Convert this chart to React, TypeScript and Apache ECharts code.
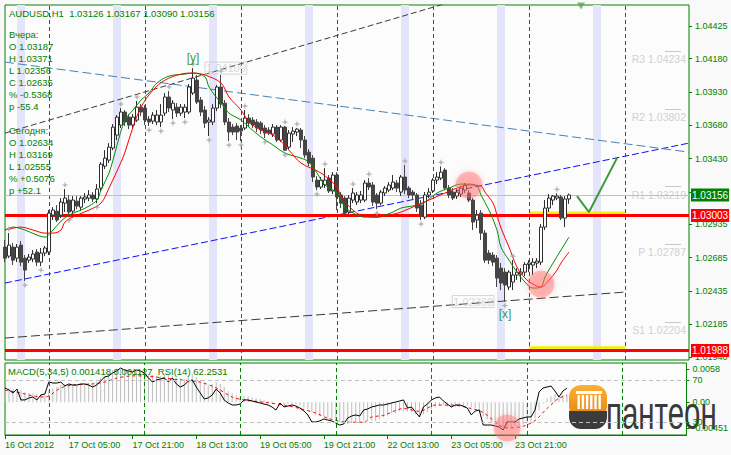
import { useEffect, useRef } from 'react';
import * as echarts from 'echarts';

const FONT = '"Liberation Sans", Arial, sans-serif';
const GREEN = '#008000';

// ---------- price data (H1 bars, 16 Oct 13:00 .. 24 Oct 10:00) ----------
const opens = [
  1.02765,1.02697,1.02765,1.02682,1.02780,1.02682,1.02667,1.02675,1.02728,1.02652,
  1.02720,1.02728,1.03005,1.03035,1.03005,1.03095,1.03118,1.03035,1.03110,1.03065,
  1.03126,1.03133,1.03156,1.03126,1.03208,1.03373,1.03418,1.03509,1.03606,1.03681,
  1.03779,1.03741,1.03681,1.03719,1.03816,1.03809,1.03726,1.03711,1.03704,1.03704,
  1.03771,1.03892,1.03794,1.03816,1.03771,1.03779,1.03779,1.03922,1.04019,1.03869,
  1.03794,1.03704,1.03704,1.03809,1.03967,1.03846,1.03704,1.03666,1.03674,1.03659,
  1.03659,1.03734,1.03719,1.03704,1.03696,1.03659,1.03644,1.03614,1.03666,1.03569,
  1.03666,1.03516,1.03614,1.03629,1.03644,1.03569,1.03478,1.03433,1.03268,1.03216,
  1.03231,1.03283,1.03186,1.03306,1.03156,1.03133,1.03028,1.03118,1.03103,1.03118,
  1.03118,1.03246,1.03231,1.03156,1.03095,1.03171,1.03193,1.03208,1.03246,1.03178,
  1.03291,1.03208,1.03178,1.03156,1.03080,1.02990,1.03156,1.03187,1.03268,1.03283,
  1.03343,1.03208,1.03178,1.03148,1.03163,1.03193,1.03171,1.03118,1.02968,1.03020,
  1.02870,1.02720,1.02705,1.02682,1.02607,1.02577,1.02465,1.02502,1.02555,1.02562,
  1.02577,1.02634,1.02630,1.02645,1.02652,1.02915,1.03058,1.03118,1.03133,1.03141,
  1.02983,1.03126,
];
const highs = [
  1.02818,1.02870,1.02795,1.02788,1.02810,1.02705,1.02713,1.02743,1.02750,1.02758,
  1.02773,1.03043,1.03065,1.03080,1.03133,1.03201,1.03156,1.03148,1.03148,1.03148,
  1.03171,1.03193,1.03178,1.03238,1.03403,1.03493,1.03546,1.03689,1.03756,1.03809,
  1.03794,1.03764,1.03764,1.03862,1.03839,1.03831,1.03749,1.03779,1.03794,1.03839,
  1.03922,1.03937,1.03869,1.03846,1.03839,1.03839,1.03989,1.04109,1.04057,1.03892,
  1.03824,1.03741,1.03839,1.03982,1.04057,1.03869,1.03734,1.03689,1.03696,1.03681,
  1.03794,1.03764,1.03741,1.03726,1.03711,1.03681,1.03666,1.03689,1.03681,1.03681,
  1.03674,1.03644,1.03666,1.03659,1.03659,1.03599,1.03501,1.03456,1.03298,1.03291,
  1.03358,1.03306,1.03328,1.03328,1.03178,1.03148,1.03156,1.03208,1.03178,1.03186,
  1.03268,1.03283,1.03253,1.03171,1.03193,1.03223,1.03253,1.03306,1.03268,1.03306,
  1.03381,1.03223,1.03193,1.03171,1.03118,1.03178,1.03208,1.03283,1.03328,1.03371,
  1.03358,1.03231,1.03208,1.03201,1.03223,1.03246,1.03193,1.03133,1.03043,1.03043,
  1.02893,1.02743,1.02728,1.02705,1.02645,1.02607,1.02592,1.02667,1.02607,1.02607,
  1.02652,1.02667,1.02682,1.02682,1.02938,1.03118,1.03163,1.03156,1.03169,1.03156,
  1.03148,1.03167,
];
const lows = [
  1.02652,1.02682,1.02630,1.02652,1.02622,1.02510,1.02645,1.02652,1.02622,1.02622,
  1.02697,1.02705,1.02968,1.02953,1.02983,1.03028,1.02998,1.03013,1.03050,1.03043,
  1.03095,1.03110,1.03103,1.03095,1.03186,1.03351,1.03396,1.03493,1.03569,1.03659,
  1.03674,1.03651,1.03659,1.03704,1.03749,1.03681,1.03674,1.03689,1.03681,1.03666,
  1.03749,1.03779,1.03726,1.03741,1.03749,1.03734,1.03764,1.03907,1.03839,1.03749,
  1.03659,1.03599,1.03681,1.03786,1.03809,1.03681,1.03561,1.03606,1.03569,1.03561,
  1.03644,1.03666,1.03659,1.03629,1.03614,1.03584,1.03606,1.03591,1.03554,1.03554,
  1.03486,1.03501,1.03554,1.03599,1.03509,1.03433,1.03373,1.03253,1.03193,1.03201,
  1.03208,1.03171,1.03163,1.03043,1.03058,1.03005,1.03013,1.03095,1.03080,1.03095,
  1.03103,1.03193,1.03073,1.03050,1.03080,1.03148,1.03178,1.03193,1.03178,1.03148,
  1.03163,1.03133,1.03118,1.03028,1.02968,1.02975,1.03133,1.03171,1.03238,1.03268,
  1.03193,1.03133,1.03118,1.03126,1.03141,1.03171,1.03103,1.02893,1.02908,1.02818,
  1.02645,1.02637,1.02622,1.02465,1.02442,1.02356,1.02442,1.02442,1.02517,1.02502,
  1.02547,1.02577,1.02555,1.02607,1.02630,1.02893,1.03028,1.03080,1.03118,1.02968,
  1.02915,1.03090,
];
const closes = [
  1.02682,1.02780,1.02667,1.02765,1.02652,1.02592,1.02690,1.02713,1.02652,1.02720,
  1.02758,1.03020,1.03043,1.02968,1.03103,1.03133,1.03028,1.03118,1.03073,1.03133,
  1.03141,1.03156,1.03126,1.03201,1.03388,1.03433,1.03516,1.03666,1.03741,1.03779,
  1.03704,1.03681,1.03741,1.03816,1.03779,1.03719,1.03704,1.03756,1.03756,1.03756,
  1.03892,1.03809,1.03846,1.03771,1.03816,1.03816,1.03967,1.04034,1.03854,1.03779,
  1.03696,1.03719,1.03809,1.03967,1.03839,1.03704,1.03629,1.03629,1.03629,1.03636,
  1.03734,1.03696,1.03681,1.03659,1.03644,1.03621,1.03621,1.03666,1.03569,1.03666,
  1.03493,1.03621,1.03636,1.03651,1.03569,1.03456,1.03396,1.03291,1.03216,1.03268,
  1.03268,1.03186,1.03306,1.03141,1.03095,1.03020,1.03133,1.03171,1.03156,1.03156,
  1.03246,1.03216,1.03103,1.03095,1.03178,1.03208,1.03231,1.03253,1.03208,1.03291,
  1.03193,1.03156,1.03156,1.03058,1.03005,1.03156,1.03178,1.03268,1.03291,1.03328,
  1.03208,1.03156,1.03133,1.03178,1.03208,1.03231,1.03118,1.02953,1.03005,1.02870,
  1.02667,1.02667,1.02652,1.02532,1.02495,1.02480,1.02577,1.02555,1.02577,1.02577,
  1.02635,1.02645,1.02652,1.02660,1.02915,1.03058,1.03133,1.03148,1.03148,1.02983,
  1.03126,1.03156,
];

// moving averages: [bar, price]
const maFast = [
  [0,1.02893],[2,1.02915],[5,1.02893],[8,1.02855],[10,1.02840],[12,1.02893],[14,1.02960],[16,1.03005],
  [19,1.03043],[21,1.03073],[23,1.03118],[24,1.03193],[26,1.03321],[27,1.03418],[28,1.03531],[30,1.03719],
  [32,1.03794],[34,1.03869],[36,1.03922],[38,1.03997],[41,1.04049],[45,1.04064],[47,1.04072],[50,1.04042],
  [51,1.03967],[54,1.03846],[56,1.03771],[59,1.03719],[61,1.03666],[64,1.03591],[67,1.03531],[70,1.03471],
  [74,1.03433],[76,1.03403],[78,1.03321],[80,1.03231],[83,1.03171],[85,1.03065],[88,1.03005],[90,1.02990],
  [93,1.02990],[95,1.03005],[97,1.03028],[99,1.03058],[103,1.03080],[105,1.03103],[108,1.03171],[111,1.03208],
  [114,1.03238],[116,1.03238],[118,1.03223],[119,1.03156],[121,1.03043],[123,1.02893],[124,1.02765],[126,1.02667],
  [128,1.02577],[130,1.02502],[132,1.02457],[134,1.02465],[135,1.02540],[137,1.02645],[139,1.02743],[141,1.02840],
];
const maSlow = [
  [0,1.02893],[4,1.02915],[7,1.02893],[10,1.02870],[12,1.02870],[14,1.02893],[15,1.02953],[18,1.03005],
  [21,1.03043],[24,1.03095],[26,1.03208],[29,1.03403],[30,1.03478],[32,1.03666],[34,1.03816],[37,1.03944],
  [40,1.04019],[44,1.04064],[47,1.04072],[50,1.04057],[54,1.03997],[56,1.03892],[59,1.03794],[61,1.03704],
  [64,1.03644],[67,1.03606],[70,1.03531],[71,1.03493],[74,1.03396],[79,1.03321],[83,1.03216],[84,1.03141],
  [87,1.03043],[89,1.03005],[93,1.02990],[95,1.02998],[99,1.03028],[103,1.03080],[106,1.03118],[110,1.03171],
  [113,1.03208],[116,1.03231],[119,1.03223],[120,1.03178],[122,1.03095],[123,1.03005],[124,1.02908],[126,1.02765],
  [128,1.02615],[130,1.02532],[132,1.02487],[134,1.02465],[136,1.02517],[138,1.02592],[139,1.02645],[141,1.02728],
];

// indicators
const macdMain = [
  0.00229,0.00246,0.00229,0.00211,0.00211,0.00176,0.00158,0.00158,0.00141,0.00141,
  0.00141,0.00211,0.00246,0.00264,0.00299,0.00316,0.00316,0.00316,0.00299,0.00316,
  0.00316,0.00334,0.00334,0.00352,0.00422,0.00457,0.00510,0.00563,0.00580,0.00580,
  0.00563,0.00545,0.00527,0.00545,0.00527,0.00510,0.00492,0.00475,0.00457,0.00457,
  0.00492,0.00475,0.00457,0.00422,0.00422,0.00404,0.00457,0.00492,0.00440,0.00387,
  0.00334,0.00299,0.00316,0.00352,0.00316,0.00264,0.00193,0.00158,0.00123,0.00088,
  0.00105,0.00105,0.00088,0.00070,0.00053,0.00035,0.00018,0.00018,0.00000,0.00000,
  -0.00035,-0.00035,-0.00035,-0.00035,-0.00053,-0.00088,-0.00123,-0.00176,-0.00229,-0.00246,
  -0.00246,-0.00281,-0.00281,-0.00316,-0.00352,-0.00387,-0.00387,-0.00369,-0.00352,-0.00352,
  -0.00316,-0.00299,-0.00316,-0.00334,-0.00299,-0.00264,-0.00229,-0.00193,-0.00193,-0.00158,
  -0.00158,-0.00158,-0.00176,-0.00211,-0.00246,-0.00211,-0.00176,-0.00123,-0.00088,-0.00053,
  -0.00053,-0.00070,-0.00088,-0.00088,-0.00070,-0.00053,-0.00053,-0.00088,-0.00105,-0.00158,
  -0.00246,-0.00299,-0.00352,-0.00387,-0.00440,-0.00451,-0.00451,-0.00440,-0.00422,-0.00404,
  -0.00387,-0.00369,-0.00334,-0.00281,-0.00141,-0.00018,0.00070,0.00105,0.00141,0.00123,
  0.00123,0.001418,
];
const macdSignal = [
  [0,0.0021],[4,0.0016],[7,0.0011],[10,0.0009],[14,0.0025],[17,0.0030],[22,0.0032],[25,0.0035],
  [28,0.0042],[32,0.0046],[35,0.0046],[40,0.0042],[44,0.0039],[49,0.0035],[53,0.0025],[57,0.0009],
  [60,0.0004],[65,0],[70,-0.0005],[74,-0.0011],[78,-0.0019],[81,-0.0028],[86,-0.0035],[90,-0.0035],
  [92,-0.0026],[95,-0.0023],[100,-0.0011],[104,-0.0016],[108,-0.0005],[112,-0.0005],[117,-0.0011],[120,-0.0018],
  [124,-0.0040],[126,-0.0045],[130,-0.0042],[133,-0.0032],[136,-0.0011],[139,0.0007],[141,0.001127],
];
const rsi = [
  62.4,60.5,57.6,61.4,51.0,51.0,52.9,53.8,51.0,55.7,
  56.7,68.1,67.1,67.1,68.1,64.3,66.2,65.2,65.2,66.2,
  66.2,65.2,63.3,65.2,69.0,72.9,73.8,76.7,78.6,81.4,
  79.5,78.6,77.6,79.5,78.6,76.7,71.9,68.1,70.0,71.0,
  71.9,68.1,71.9,66.2,63.3,65.2,69.0,70.0,63.3,57.6,
  51.9,52.9,55.7,61.4,57.6,51.0,48.1,46.2,46.2,47.1,
  51.0,51.0,50.0,49.0,48.1,47.1,46.2,44.3,41.4,48.1,
  44.3,45.2,46.2,45.2,43.3,40.5,36.7,30.0,30.0,31.0,
  32.9,31.9,31.0,29.0,27.1,28.1,33.8,35.7,36.7,35.7,
  41.4,42.4,44.3,45.2,46.2,46.2,47.1,48.1,49.0,50.0,
  51.0,43.3,44.3,39.5,34.8,44.3,47.1,51.0,52.9,53.8,
  50.0,47.1,44.3,46.2,46.2,45.2,43.3,36.7,40.5,41.4,
  27.1,27.1,27.1,26.2,25.2,22.4,30.0,30.0,30.0,32.9,
  33.8,34.8,34.8,41.4,58.6,62.4,63.3,64.3,59.5,53.8,
  59.5,62.25,
];

// fractal marks (bar indexes)
const fractalUp = [1, 15, 29, 33, 41, 47, 54, 60, 70, 73, 80, 87, 91, 100, 109, 127, 138];
const fractalDown = [5, 9, 16, 23, 36, 39, 42, 45, 51, 56, 59, 65, 70, 78, 93, 104, 125];

// trend lines: [bar, price] endpoints
const trendUpperBlack = [[0, 1.03621], [115, 1.04637]];
const trendLowerBlack = [[0, 1.02082], [155, 1.02427]];
const trendBlue = [[0, 1.02495], [171, 1.03546]];
const trendSteel = [[0, 1.04154], [171, 1.03478]];
const forecast = [[143, 1.03148], [146, 1.03028], [153, 1.03433]];
const yellowHigh = [[131, 1.03017], [155, 1.03017]];
const yellowLow = [[131, 1.02006], [155, 1.02006]];

// levels
const bidPrice = 1.03156;
const redLevels = [1.03003, 1.01988];
const pivotNames = ['R3', 'R2', 'R1', 'P', 'S1'];
const pivotValues = [1.04234, 1.03802, 1.03219, 1.02787, 1.02204];

// circles (highlights)
const circlesMain = [[116, 1.03231], [134, 1.02487]];
const circlesSub = [[126, 24.3]];

// axes
const N_CATS = 172;
const priceMin = 1.01917;
const priceMax = 1.04583;
const priceTicks = [1.04425, 1.0418, 1.0393, 1.0368, 1.0343, 1.0318, 1.02935, 1.02685, 1.02435, 1.02185, 1.0194];
const macdMin = -0.00573, macdMax = 0.00685;
const macdTicks = [0.0058, 0, -0.00451];
const rsiMin = 17.6, rsiMax = 86.2;
const rsiTicks = [70, 30];
const dayStarts = [11, 35, 59, 83, 107, 131, 155];
const bandBars = [4, 28, 52, 76, 100, 124, 148];
const xTickIndex = [0, 16, 32, 48, 64, 80, 96, 112, 128];
const xTickText = ['16 Oct 2012', '17 Oct 05:00', '17 Oct 21:00', '18 Oct 13:00', '19 Oct 05:00', '19 Oct 21:00', '22 Oct 13:00', '23 Oct 05:00', '23 Oct 21:00'];

// texts
const headerText = 'AUDUSD,H1  1.03126 1.03167 1.03090 1.03156';
const infoLines = ['Вчера:', 'O 1.03187', 'H 1.03371', 'L 1.02356', 'C 1.02635', '% -0.5368', 'p -55.4', '', 'Сегодня:', 'O 1.02634', 'H 1.03169', 'L 1.02555', '% +0.5076', 'p +52.1'];
const subTitle = 'MACD(5,34,5) 0.001418 0.001127  RSI(14) 62.2531';

export default function App() {
  const ref = useRef<HTMLDivElement>(null);
  useEffect(() => {
    const chart = echarts.init(ref.current!, null, { renderer: 'svg' });
    const cats = Array.from({ length: N_CATS }, (_, i) => String(i));
    const candles = opens.map((o, i) => [o, closes[i], lows[i], highs[i]]);

    const dashedLine = (data: number[][], color: string, type: any, width = 1) => ({
      type: 'line', xAxisIndex: 0, yAxisIndex: 0, data, showSymbol: false, symbol: 'none',
      silent: true, z: 3, lineStyle: { color, width, type }, clip: true,
    });

    const boxLabel = (text: string, bg: string) => ({
      show: true, position: 'end', distance: 2, formatter: text, backgroundColor: bg,
      color: '#ffffff', padding: [2, 1, 1, 1], fontSize: 10, fontFamily: FONT,
    });

    const starPath = 'path://M5 0L6.2 3.8L10 5L6.2 6.2L5 10L3.8 6.2L0 5L3.8 3.8Z';

    const labelItems: any[] = [
      { value: [47, 1.04109], label: { show: true, position: 'top', distance: 3, formatter: '[y]', color: GREEN, fontSize: 12, fontFamily: FONT } },
      { value: [47, 1.04109], label: { show: true, position: 'right', distance: 11, formatter: '1.04109', color: '#cccccc', borderColor: '#cccccc', borderWidth: 1, padding: [1, 1, 0, 1], fontSize: 11, fontFamily: FONT } },
      { value: [125, 1.02356], label: { show: true, position: 'bottom', distance: 5, formatter: '[x]', color: GREEN, fontSize: 12, fontFamily: FONT } },
      { value: [125, 1.02356], label: { show: true, position: 'left', distance: 10, formatter: '1.02368', color: '#cccccc', borderColor: '#cccccc', borderWidth: 1, padding: [1, 1, 0, 1], fontSize: 11, fontFamily: FONT } },
      ...pivotValues.map((v, k) => ({
        value: [170, v],
        label: { show: true, position: 'left', distance: 0, offset: [2, 8], formatter: pivotNames[k] + ' ' + v.toFixed(5), color: '#c4c4c4', fontSize: 10.5, fontFamily: FONT },
      })),
    ];

    const graphic: any[] = [
      { type: 'text', x: 9, y: 13, z: 100, style: { text: headerText, fill: GREEN, font: '9.5px "Liberation Sans"', verticalAlign: 'middle' } },
      ...infoLines.map((t, k) => ({ type: 'text', x: 9, y: 34.5 + k * 12, z: 100, style: { text: t, fill: GREEN, font: '9.5px "Liberation Sans"', verticalAlign: 'middle' } })),
      { type: 'text', x: 8, y: 371, z: 100, style: { text: subTitle, fill: GREEN, font: '9.5px "Liberation Sans"', verticalAlign: 'middle' } },
      // logo
      {
        type: 'group', z: 120, children: [
          { type: 'rect', shape: { x: 569, y: 385, width: 38, height: 33, r: 12 }, style: { fill: new echarts.graphic.LinearGradient(0, 0, 0, 1, [{ offset: 0, color: '#fbb034' }, { offset: 1, color: '#e8850c' }]) } },
          { type: 'rect', shape: { x: 569, y: 411, width: 38, height: 18, r: [0, 0, 12, 12] }, style: { fill: '#3c3c3c' } },
          { type: 'rect', shape: { x: 576, y: 391, width: 26, height: 3 }, style: { fill: '#ffffff' } },
          ...[0, 1, 2, 3, 4, 5].map((k) => ({ type: 'rect', shape: { x: 577.5 + k * 4.2, y: 395, width: 2.4, height: 14 }, style: { fill: '#ffffff' } })),
          { type: 'text', x: 606, y: 413, scaleX: 0.64, style: { text: 'пантеон', fill: '#3a3a3a', font: '46px "Liberation Sans"', verticalAlign: 'middle' } },
        ],
      },
    ];

    const option: any = {
      animation: false,
      backgroundColor: '#f9f9f9',
      textStyle: { fontFamily: FONT },
      grid: [
        { left: 5, top: 5, width: 684, height: 355, show: true, borderColor: GREEN, borderWidth: 1, backgroundColor: '#fcfcfc' },
        { left: 5, top: 363, width: 684, height: 72, show: true, borderColor: GREEN, borderWidth: 1, backgroundColor: '#fcfcfc' },
      ],
      xAxis: [
        { type: 'category', gridIndex: 0, data: cats, boundaryGap: false, axisLine: { show: false, onZero: false }, axisTick: { show: false }, axisLabel: { show: false }, splitLine: { show: false } },
        {
          type: 'category', gridIndex: 1, data: cats, boundaryGap: false, position: 'bottom',
          axisLine: { show: true, onZero: false, lineStyle: { color: GREEN } },
          axisTick: { show: true, length: 4, interval: (i: number) => xTickIndex.includes(i), lineStyle: { color: GREEN } },
          axisLabel: {
            interval: (i: number) => xTickIndex.includes(i),
            formatter: (_v: string, i: number) => xTickText[xTickIndex.indexOf(i)] || '',
            align: 'left', margin: 5, color: GREEN, fontSize: 9, fontFamily: FONT,
          },
          splitLine: { show: false },
        },
      ],
      yAxis: [
        {
          type: 'value', gridIndex: 0, position: 'right', min: priceMin, max: priceMax, scale: true,
          splitLine: { show: false }, axisLine: { show: false },
          axisTick: { show: true, customValues: priceTicks, length: 3, lineStyle: { color: GREEN } },
          axisLabel: { customValues: priceTicks, formatter: (v: number) => v.toFixed(5), color: GREEN, fontSize: 9, fontFamily: FONT, margin: 6 },
        },
        {
          type: 'value', gridIndex: 1, position: 'right', min: macdMin, max: macdMax,
          splitLine: { show: false }, axisLine: { show: false },
          axisTick: { show: true, customValues: macdTicks, length: 3, lineStyle: { color: GREEN } },
          axisLabel: { customValues: macdTicks, formatter: (v: number) => (v === 0 ? '0.00' : String(v)), color: GREEN, fontSize: 9, fontFamily: FONT, margin: 6 },
        },
        {
          type: 'value', gridIndex: 1, position: 'right', min: rsiMin, max: rsiMax,
          splitLine: { show: false }, axisLine: { show: false },
          axisTick: { show: true, customValues: rsiTicks, length: 3, lineStyle: { color: GREEN } },
          axisLabel: { customValues: rsiTicks, formatter: (v: number) => String(v), color: GREEN, fontSize: 9, fontFamily: FONT, margin: 6 },
        },
      ],
      graphic,
      series: [
        {
          type: 'bar', xAxisIndex: 0, yAxisIndex: 0, data: bandBars.map((i) => [i, priceMax]), barWidth: 8,
          itemStyle: { color: '#e4e4fa' }, silent: true, z: 1,
          markLine: {
            silent: true, symbol: ['none', 'none'], label: { show: false },
            lineStyle: { color: GREEN, type: [4, 3], width: 1 },
            data: dayStarts.map((i) => ({ xAxis: i })),
          },
        },
        dashedLine(trendUpperBlack, '#3a3a3a', [6, 3]),
        dashedLine(trendLowerBlack, '#3a3a3a', [9, 4]),
        dashedLine(trendBlue, '#1010ee', [7, 3]),
        dashedLine(trendSteel, '#4682b4', [9, 4]),
        dashedLine(yellowHigh, '#f2f200', 'solid', 4),
        dashedLine(yellowLow, '#f2f200', 'solid', 4),
        {
          type: 'candlestick', xAxisIndex: 0, yAxisIndex: 0, data: candles, barWidth: 3, z: 5,
          itemStyle: { color: '#ffffff', color0: '#454545', borderColor: '#2e2e2e', borderColor0: '#454545', borderWidth: 1 },
          markLine: {
            silent: true, symbol: ['none', 'none'], precision: 5,
            data: [
              { yAxis: bidPrice, lineStyle: { color: '#c0c0c0', width: 1, type: 'solid' }, label: boxLabel(bidPrice.toFixed(5), GREEN) },
              ...redLevels.map((v) => ({ yAxis: v, lineStyle: { color: '#ff0000', width: 3, type: 'solid' }, label: boxLabel(v.toFixed(5), '#ff0000') })),
              ...pivotValues.map((v) => [
                { coord: [165, v], lineStyle: { color: '#c8c8c8', width: 1, type: 'solid' }, label: { show: false } },
                { coord: [169, v] },
              ]),
            ],
          },
        },
        { type: 'line', xAxisIndex: 0, yAxisIndex: 0, data: maFast, smooth: 0.35, symbol: 'none', lineStyle: { color: '#009000', width: 1 }, z: 6, silent: true },
        { type: 'line', xAxisIndex: 0, yAxisIndex: 0, data: maSlow, smooth: 0.35, symbol: 'none', lineStyle: { color: '#ff0000', width: 1 }, z: 6, silent: true },
        { type: 'line', xAxisIndex: 0, yAxisIndex: 0, data: forecast, symbol: 'none', lineStyle: { color: '#3c9c3c', width: 2 }, z: 7, silent: true },
        {
          type: 'scatter', xAxisIndex: 0, yAxisIndex: 0, data: [[144, 1.04576]], symbol: 'triangle', symbolRotate: 180,
          symbolSize: [8, 7], itemStyle: { color: '#5aa85a' }, z: 7, silent: true,
        },
        {
          type: 'scatter', xAxisIndex: 0, yAxisIndex: 0, data: fractalUp.map((i) => [i, highs[i]]), symbol: starPath,
          symbolSize: 7, symbolOffset: [0, -4], itemStyle: { color: '#a3a3a3' }, z: 6, silent: true, clip: false,
        },
        {
          type: 'scatter', xAxisIndex: 0, yAxisIndex: 0, data: fractalDown.map((i) => [i, lows[i]]), symbol: starPath,
          symbolSize: 7, symbolOffset: [0, 4], itemStyle: { color: '#a3a3a3' }, z: 6, silent: true, clip: false,
        },
        {
          type: 'scatter', xAxisIndex: 0, yAxisIndex: 0, data: labelItems, symbolSize: 2,
          itemStyle: { color: 'rgba(0,0,0,0)' }, z: 8, silent: true, clip: false,
        },
        {
          type: 'scatter', xAxisIndex: 0, yAxisIndex: 0, data: circlesMain, symbolSize: 27,
          itemStyle: { color: 'rgba(255,110,110,0.5)', shadowBlur: 6, shadowColor: 'rgba(255,80,80,0.6)' }, z: 9, silent: true,
        },
        // sub window
        {
          type: 'bar', xAxisIndex: 1, yAxisIndex: 1, data: macdMain, barWidth: 1, itemStyle: { color: '#bdbdbd' }, silent: true, z: 2,
          markLine: {
            silent: true, symbol: ['none', 'none'], label: { show: false },
            lineStyle: { color: GREEN, type: [4, 3], width: 1 },
            data: dayStarts.map((i) => ({ xAxis: i })),
          },
        },
        {
          type: 'line', xAxisIndex: 1, yAxisIndex: 1, data: macdSignal, symbol: 'none', smooth: 0.3,
          lineStyle: { color: '#ff0000', width: 1, type: [3, 3] }, z: 3, silent: true,
        },
        {
          type: 'line', xAxisIndex: 1, yAxisIndex: 2, data: rsi, symbol: 'none', lineStyle: { color: '#000000', width: 1 }, z: 4, silent: true,
          markLine: {
            silent: true, symbol: ['none', 'none'], label: { show: false },
            lineStyle: { color: '#c0c0c0', type: [4, 3], width: 1 },
            data: rsiTicks.map((v) => ({ yAxis: v })),
          },
        },
        {
          type: 'scatter', xAxisIndex: 1, yAxisIndex: 2, data: circlesSub, symbolSize: 27,
          itemStyle: { color: 'rgba(255,110,110,0.5)', shadowBlur: 6, shadowColor: 'rgba(255,80,80,0.6)' }, z: 9, silent: true,
        },
      ],
    };
    chart.setOption(option);
    return () => chart.dispose();
  }, []);
  return <div ref={ref} style={{ position: 'fixed', left: 0, top: 0, width: 731, height: 455 }} />;
}
